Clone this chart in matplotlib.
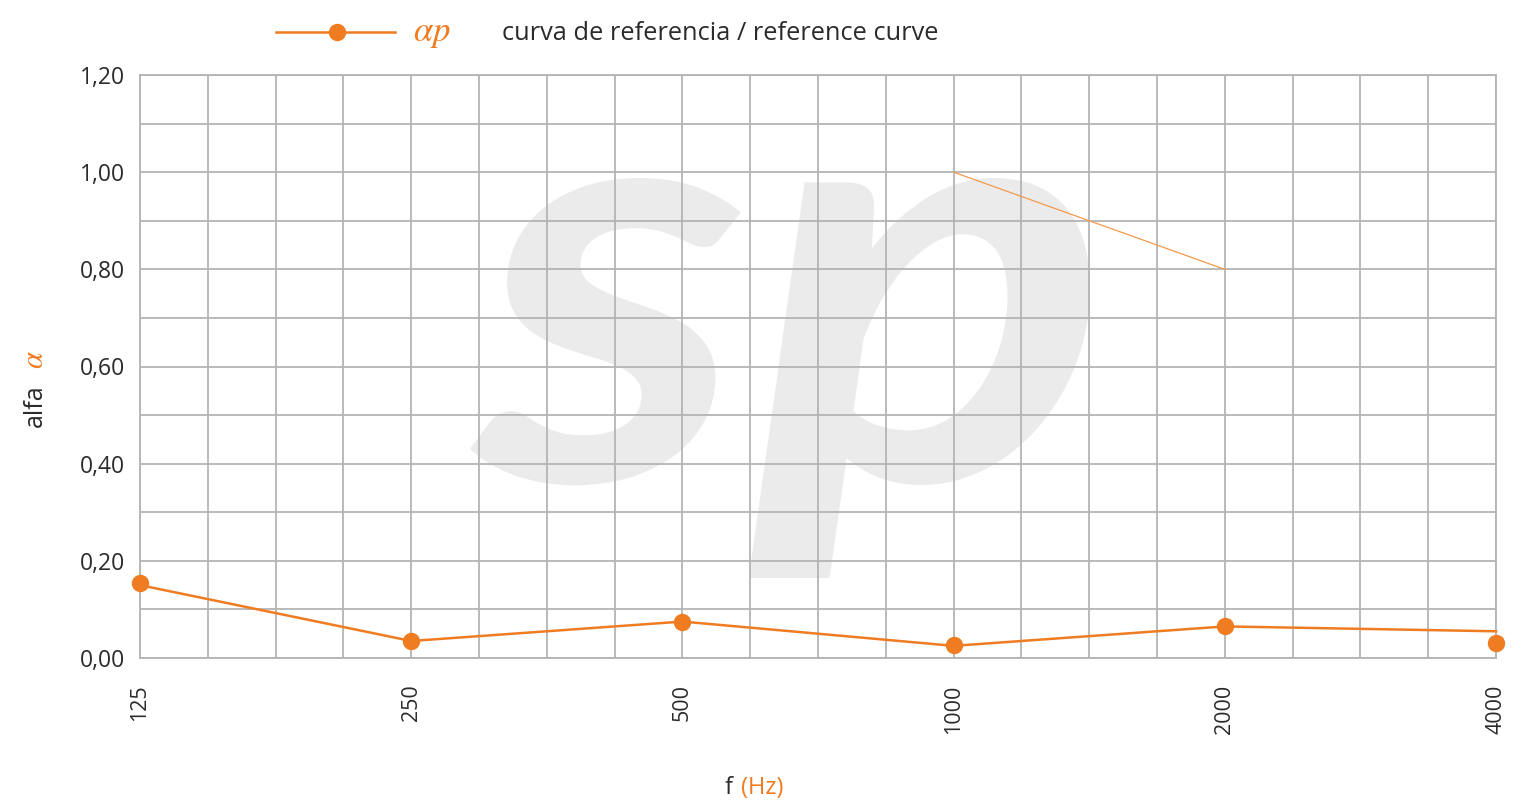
import matplotlib
matplotlib.use("Agg")
import matplotlib.pyplot as plt
from matplotlib.ticker import FixedLocator, NullFormatter
from matplotlib.textpath import TextPath
from matplotlib.patches import PathPatch
from matplotlib.font_manager import FontProperties
from matplotlib.transforms import Affine2D

# frequency bands (Hz) and measured absorption
freqs = [125, 250, 500, 1000, 2000, 4000]
alpha_points = [0.155, 0.035, 0.075, 0.027, 0.065, 0.030]
alpha_line = [0.150, 0.035, 0.075, 0.025, 0.065, 0.055]

# reference curve
ref_freqs = [1000, 2000]
ref_vals = [1.00, 0.80]

yticks = [0.0, 0.2, 0.4, 0.6, 0.8, 1.0, 1.2]
ytick_labels = ["0,00", "0,20", "0,40", "0,60", "0,80", "1,00", "1,20"]

orange = "#f07c22"
grid_c = "#b4b4b4"
txt_c = "#2b2b2b"

plt.rcParams["font.family"] = ["Open Sans", "DejaVu Sans"]

W, H = 1525, 808
fig = plt.figure(figsize=(W / 100, H / 100), dpi=100)
ax = fig.add_axes([140 / W, 1 - 658 / H, (1496 - 140) / W, (658 - 75) / H])

ax.set_xscale("log", base=2)
ax.set_xlim(125, 4000)
ax.set_ylim(0, 1.2)

# watermark "sp", stretched into its box (pixel coords)
tp = TextPath((0, 0), "sp", size=1,
              prop=FontProperties(family="Lato", weight="bold", style="italic"))
bb = tp.get_extents()
x0, x1, ytop, ybot = 470, 1090, 178, 578
tr = (Affine2D().translate(-bb.x0, -bb.y0)
      .scale((x1 - x0) / bb.width, (ybot - ytop) / bb.height)
      .translate(x0, H - ybot))
wm = PathPatch(tr.transform_path(tp), facecolor="#ebebeb", edgecolor="none", zorder=0.1)
ax.add_patch(wm)
wm.set_transform(Affine2D().scale(fig.dpi / 100))
wm.set_clip_on(False)

ax.xaxis.set_major_locator(FixedLocator(freqs))
ax.xaxis.set_minor_locator(FixedLocator([125 * 2 ** (k / 4) for k in range(21)]))
ax.xaxis.set_minor_formatter(NullFormatter())
ax.set_xticklabels([str(f) for f in freqs], rotation=90, va="top", ha="center")
ax.set_yticks(yticks)
ax.set_yticklabels(ytick_labels)
ax.yaxis.set_minor_locator(FixedLocator([k / 10 for k in range(13)]))
ax.tick_params(which="both", length=0, colors=txt_c)
ax.tick_params(axis="x", pad=19, labelsize=15.5)
ax.tick_params(axis="y", pad=11, labelsize=16.5)

ax.set_axisbelow(True)
ax.grid(True, which="both", color=grid_c, linewidth=1.3)
for s in ax.spines.values():
    s.set_color(grid_c)
    s.set_linewidth(1.3)

ax.plot(freqs, alpha_line, color=orange, linewidth=1.8, clip_on=False, zorder=3)
ax.plot(freqs, alpha_points, linestyle="none", marker="o", markersize=11.5,
        color=orange, clip_on=False, zorder=4)
ax.plot(ref_freqs, ref_vals, color="#f59a4a", linewidth=0.9, zorder=3)

# legend drawn by hand at the top
fig.lines.append(plt.Line2D([276 / W, 395 / W], [1 - 32 / H] * 2,
                            transform=fig.transFigure, color=orange, linewidth=1.8))
fig.lines.append(plt.Line2D([337 / W], [1 - 32 / H], transform=fig.transFigure,
                            marker="o", markersize=11.5, color=orange, linestyle="none"))
fig.text(413 / W, 1 - 33 / H, r"$\alpha p$", color=orange, fontsize=25,
         va="center", ha="left", math_fontfamily="stix")
fig.text(502 / W, 1 - 34 / H, "curva de referencia / reference curve",
         color=txt_c, fontsize=18.3, va="center", ha="left")

# axis titles
fig.text(35 / W, 1 - 406 / H, "alfa", color=txt_c, fontsize=18, rotation=90,
         va="center", ha="center")
fig.text(35 / W, 1 - 360 / H, r"$\alpha$", color=orange, fontsize=22, rotation=90,
         va="center", ha="center", math_fontfamily="stix")
fig.text(729 / W, 1 - 788 / H, "f", color=txt_c, fontsize=17, va="center", ha="center")
fig.text(762 / W, 1 - 788 / H, "(Hz)", color=orange, fontsize=17, va="center", ha="center")

fig.savefig("out.png", dpi=100)
